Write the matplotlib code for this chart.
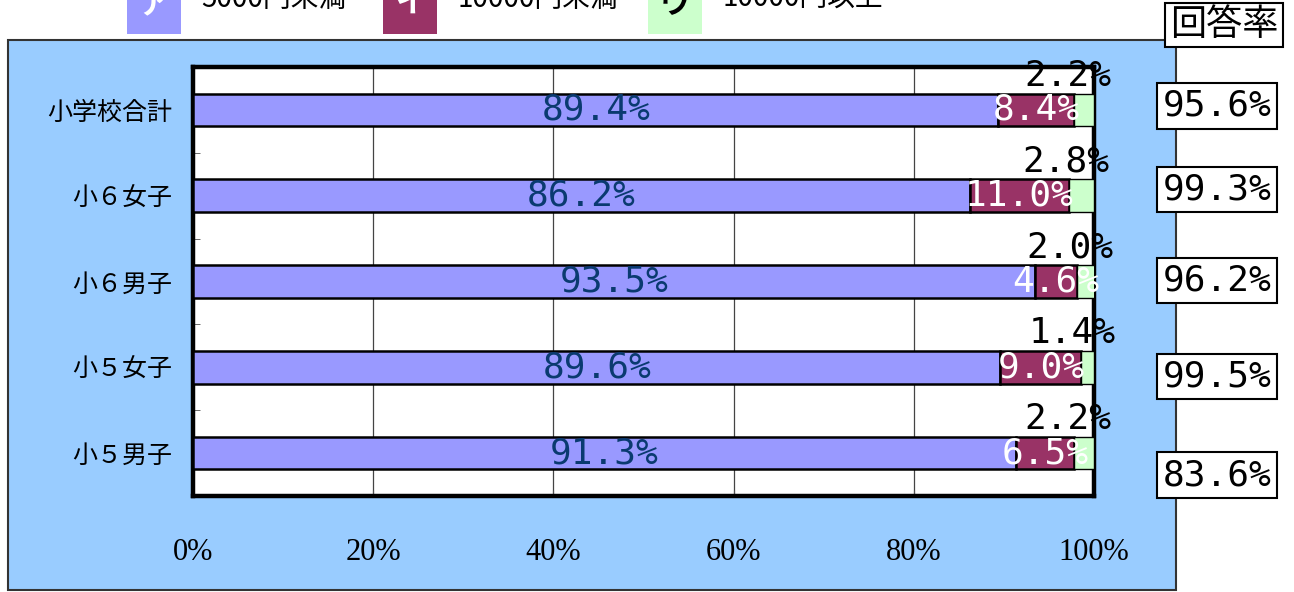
import matplotlib
matplotlib.use("Agg")
import matplotlib.pyplot as plt
import matplotlib.patches as mpatches
import matplotlib.transforms as mtransforms
import numpy as np

# ---- data ----
categories = ["小学校合計", "小６女子", "小６男子", "小５女子", "小５男子"]
series_names = ["5000円未満", "10000円未満", "10000円以上"]
series_marks = ["ア", "イ", "ウ"]
s_a = [89.4, 86.2, 93.5, 89.6, 91.3]   # ア 5000円未満
s_b = [8.4, 11.0, 4.6, 9.0, 6.5]       # イ 10000円未満
s_c = [2.2, 2.8, 2.0, 1.4, 2.2]        # ウ 10000円以上
response_rate = [95.6, 99.3, 96.2, 99.5, 83.6]
response_title = "回答率"
xticks = [0, 20, 40, 60, 80, 100]
xticklabels = ["0%", "20%", "40%", "60%", "80%", "100%"]

# ---- style ----
colors = ["#9999FF", "#993366", "#CCFFCC"]
mark_colors = ["white", "white", "black"]
W, H = 1294, 592
cjk = ["Noto Sans CJK JP", "DejaVu Sans"]
mono = "DejaVu Sans Mono"
resp_dy_px = [4, 6, 1, -9, -22]   # layout nudges for response boxes

fig = plt.figure(figsize=(W / 100, H / 100), dpi=100)
fig.patch.set_facecolor("white")

# blue chart panel
panel = mpatches.Rectangle((8 / W, 2 / H), (1176 - 8) / W, (590 - 40) / H,
                           transform=fig.transFigure, facecolor="#99CCFF",
                           edgecolor="#333333", linewidth=1.5, zorder=0)
fig.patches.append(panel)

ax = fig.add_axes([193 / W, (H - 496) / H, (1094 - 193) / W, (496 - 67) / H])
ax.set_facecolor("white")
ax.set_zorder(1)

y = np.arange(len(categories))
bh = 0.38
a = np.array(s_a)
b = np.array(s_b)
c = np.array(s_c)
ax.barh(y, a, height=bh, color=colors[0], edgecolor="black", linewidth=1.8, zorder=3)
ax.barh(y, b, left=a, height=bh, color=colors[1], edgecolor="black", linewidth=1.8, zorder=3)
ax.barh(y, c, left=a + b, height=bh, color=colors[2], edgecolor="black", linewidth=1.0, zorder=3)

ax.set_xlim(0, 100)
ax.set_ylim(len(categories) - 0.5, -0.5)
ax.set_xticks(xticks)
ax.set_xticklabels(xticklabels, fontfamily="Liberation Serif", fontsize=22)
ax.set_yticks(y)
ax.set_yticklabels(categories, fontfamily=cjk, fontsize=18)
ax.set_yticks(np.arange(len(categories) - 1) + 0.5, minor=True)
ax.tick_params(axis="y", which="major", length=0, pad=15)
ax.tick_params(axis="y", which="minor", direction="in", length=5, color="#555555")
ax.tick_params(axis="x", direction="in", length=4, color="#555555", pad=30)
ax.xaxis.grid(True, color="#444444", linewidth=0.9)
ax.set_axisbelow(True)
for sp in ax.spines.values():
    sp.set_linewidth(3.2)
    sp.set_color("black")

# value labels
for i in range(len(categories)):
    ax.text(a[i] / 2, y[i], f"{a[i]:.1f}%", ha="center", va="center",
            fontfamily=mono, fontsize=26, color="#0a3a70", zorder=5)
    ax.text(a[i] + b[i] / 2, y[i], f"{b[i]:.1f}%", ha="center", va="center",
            fontfamily=mono, fontsize=26, color="white", zorder=5)
    off = mtransforms.offset_copy(ax.transData, fig=fig, x=-16, y=34, units="dots")
    ax.text(a[i] + b[i] + c[i] / 2, y[i], f"{c[i]:.1f}%", ha="center", va="center",
            fontfamily=mono, fontsize=26, color="black", zorder=6, transform=off,
            clip_on=False)

# response-rate boxes (outside the panel)
fig.text(1224 / W, 1 - 25 / H, response_title, ha="center", va="center",
         fontfamily=cjk, fontsize=26, color="black",
         bbox=dict(boxstyle="square,pad=0.12", facecolor="white", edgecolor="black", linewidth=1.5))
bt = mtransforms.blended_transform_factory(fig.transFigure, ax.transData)
for i, r in enumerate(response_rate):
    tr = mtransforms.offset_copy(bt, fig=fig, x=0, y=resp_dy_px[i], units="dots")
    ax.text(1217 / W, y[i], f"{r:.1f}%", ha="center", va="center", transform=tr,
            fontfamily=mono, fontsize=26, color="black", clip_on=False, zorder=10,
            bbox=dict(boxstyle="square,pad=0.16", facecolor="white", edgecolor="black", linewidth=1.5))

# legend (cut off at the top edge, as in the reference)
leg_x = [127, 383, 648]
for k in range(3):
    rect = mpatches.Rectangle((leg_x[k] / W, 1 - 34 / H), 54 / W, 60 / H,
                              transform=fig.transFigure, facecolor=colors[k],
                              edgecolor="none", zorder=2)
    fig.patches.append(rect)
    fig.text((leg_x[k] + 27) / W, 1 - 4 / H, series_marks[k], ha="center", va="center",
             fontfamily=cjk, fontsize=22, fontweight="bold", color=mark_colors[k], zorder=3)
    fig.text((leg_x[k] + 74) / W, 1 + 1 / H, series_names[k], ha="left", va="center",
             fontfamily=cjk, fontsize=20, color="black", zorder=3)

fig.savefig("out.png", dpi=100)
